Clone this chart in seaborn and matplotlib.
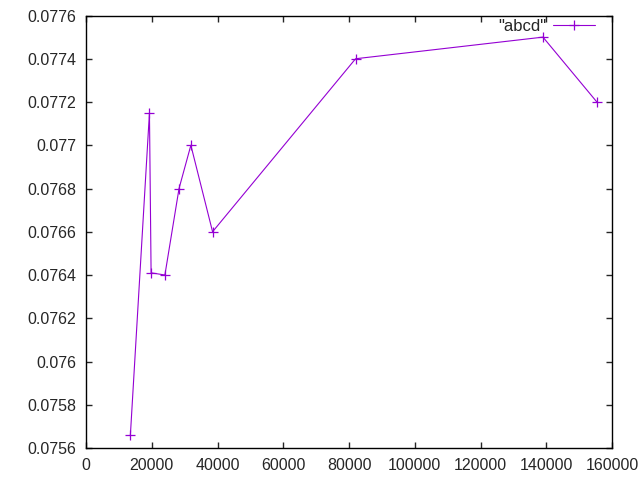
import numpy as np
import pandas as pd
import matplotlib
matplotlib.use("Agg")
import matplotlib.pyplot as plt
import seaborn as sns

# ==============================
# DATA
# ==============================
x_vals = [13500, 19300, 19800, 24000, 28300, 31900, 38500, 82000, 139000, 155400]
y_vals = [0.07566, 0.07715, 0.07641, 0.0764, 0.0768, 0.0770, 0.0766, 0.0774, 0.0775, 0.0772]
series_name = '"abcd"'

df = pd.DataFrame({"x": x_vals, "y": y_vals})

# ==============================
# STYLE
# ==============================
sns.set_style("ticks")
plt.rcParams["font.family"] = ["Liberation Sans", "DejaVu Sans"]
plt.rcParams["xtick.direction"] = "in"
plt.rcParams["ytick.direction"] = "in"

fig, ax = plt.subplots(figsize=(6.4, 4.8), dpi=100)
fig.subplots_adjust(left=86 / 640, right=612 / 640, top=1 - 15.5 / 480, bottom=1 - 448 / 480)

sns.lineplot(data=df, x="x", y="y", ax=ax, color="#9400D3", linewidth=0.8,
             marker="+", markersize=7, markeredgewidth=0.9, markeredgecolor="#9400D3",
             label=series_name, sort=False)

yticks = np.round(np.arange(0.0756, 0.07761, 0.0002), 4)
ax.set_xlim(0, 160000)
ax.set_ylim(0.0756, 0.0776)
ax.set_xticks(np.arange(0, 160001, 20000))
ax.set_yticks(yticks)
ax.set_yticklabels([f"{v:g}" for v in yticks])
ax.set_xlabel("")
ax.set_ylabel("")

for s in ax.spines.values():
    s.set_linewidth(1)
    s.set_color("black")
ax.tick_params(axis="both", which="both", direction="in", length=4, width=1,
               labelsize=11.5, top=True, right=True, pad=7)

ax.legend(loc="upper right", bbox_to_anchor=(595 / 640, 1 - 19 / 480),
          bbox_transform=fig.transFigure, frameon=False, markerfirst=False,
          fontsize=12, handlelength=2.5, handletextpad=0.4,
          borderaxespad=0, borderpad=0)

fig.savefig("out.png", dpi=100)
